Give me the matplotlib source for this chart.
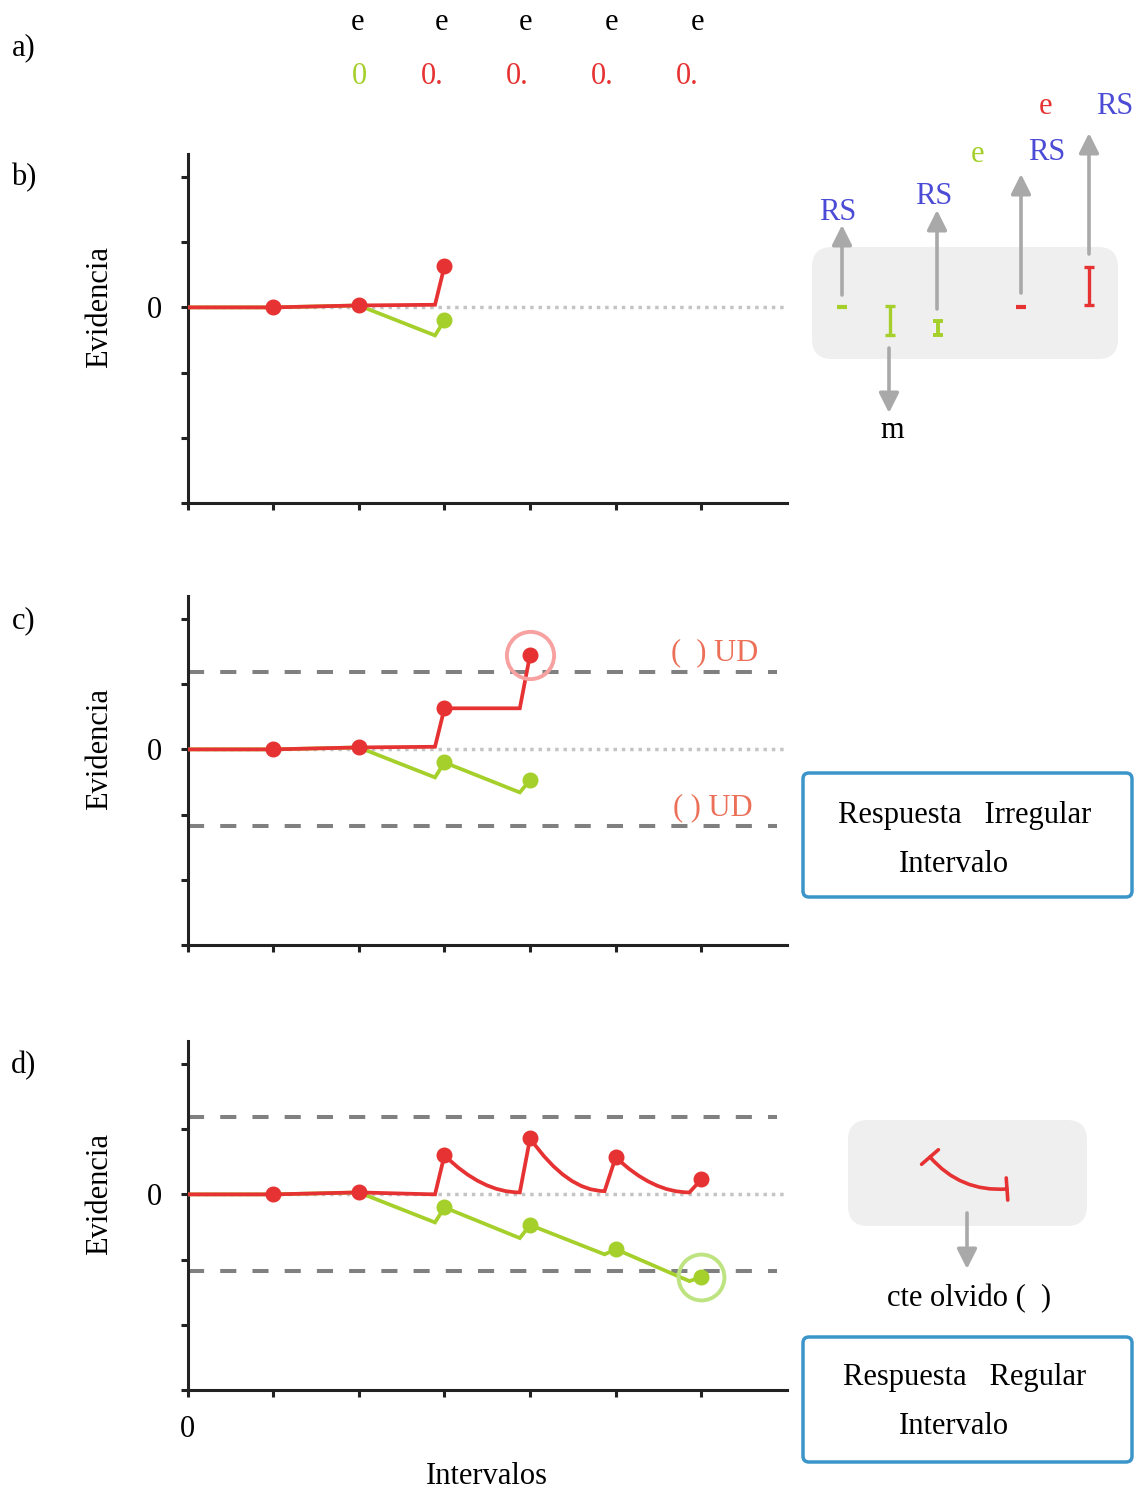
import matplotlib

matplotlib.use("Agg")
import matplotlib.pyplot as plt  # noqa: E402
from matplotlib.patches import FancyArrowPatch, FancyBboxPatch, PathPatch  # noqa: E402
from matplotlib.path import Path  # noqa: E402
from matplotlib.transforms import blended_transform_factory  # noqa: E402

plt.rcParams.update({
    "font.family": ["Liberation Serif", "DejaVu Serif"],
    "font.size": 22,
})

RED = "#e63232"
GREEN = "#a5d02b"
BLUE_TXT = "#4b4bd6"
GRAY_ARROW = "#a9a9a9"
BOX_GRAY = "#efefef"
BOX_BLUE = "#3b95c9"
SALMON = "#ec6f58"

# --- datos ---
TOP_E = ["e", "e", "e", "e", "e"]
TOP_VALS = ["0", "0.", "0.", "0.", "0."]
THRESH = 1.18

# b) un solo salto
B_RED_X = [0, 1, 2, 2.89, 3]
B_RED_Y = [0, 0, 0.03, 0.04, 0.63]
B_GREEN_X = [0, 1, 2, 2.89, 3]
B_GREEN_Y = [0, 0, 0.03, -0.43, -0.20]

# c) intervalo irregular
C_RED_X = [0, 1, 2, 2.89, 3, 3.88, 4]
C_RED_Y = [0, 0, 0.03, 0.04, 0.63, 0.63, 1.45]
C_GREEN_X = [0, 1, 2, 2.89, 3, 3.88, 4]
C_GREEN_Y = [0, 0, 0.03, -0.43, -0.20, -0.66, -0.47]

# d) intervalo regular (con olvido)
D_RED_DOT_X = [1, 2, 3, 4, 5, 6]
D_RED_DOT_Y = [0, 0.03, 0.60, 0.86, 0.57, 0.23]
D_RED_TROUGH_X = [2.89, 3.88, 4.87, 5.86]
D_RED_TROUGH_Y = [0.0, 0.03, 0.05, 0.03]
D_GREEN_X = [0, 1, 2, 2.89, 3, 3.88, 4, 4.87, 5, 5.86, 6]
D_GREEN_Y = [0, 0, 0.03, -0.43, -0.20, -0.67, -0.47, -0.92, -0.84, -1.33, -1.27]

W, H = 1139, 1490
fig = plt.figure(figsize=(W / 100, H / 100), dpi=100)

LEFT = 187.5 / W
WIDTH = (787 - 187.5) / W
AX_H = 349.5 / H
LW = 2.7


def setup_axes(bottom_px, xlabels=False):
    ax = fig.add_axes([LEFT, 1 - bottom_px / H, WIDTH, AX_H])
    ax.set_xlim(0, 7)
    ax.set_ylim(-3, 2.36)
    ax.set_xticks(range(7), ["0"] + [""] * 6 if xlabels else [""] * 7)
    ax.set_yticks(range(-3, 3), ["", "", "", "0", "", ""])
    ax.tick_params(length=5, width=2.2, color="#222222", pad=13, labelsize=22)
    for side in ("top", "right"):
        ax.spines[side].set_visible(False)
    for side in ("left", "bottom"):
        ax.spines[side].set_linewidth(2.2)
        ax.spines[side].set_color("#222222")
    ax.axhline(0, color="#c4c4c4", lw=2.5, dashes=(1.0, 1.4), zorder=1)
    tr = blended_transform_factory(ax.transAxes, ax.transData)
    ax.text(-0.146, 0, "Evidencia", transform=tr, rotation=90,
            ha="center", va="center", fontsize=22)
    return ax


def thresholds(ax):
    for y in (THRESH, -THRESH):
        ax.plot([0, 6.88], [y, y], color="#808080", lw=2.9, dashes=(4, 4),
                solid_capstyle="butt", dash_capstyle="butt", zorder=1)


line_kw = dict(lw=LW, marker="o", ms=10.5, solid_joinstyle="miter", zorder=3)

# b)
ax_b = setup_axes(503)
ax_b.plot(B_GREEN_X, B_GREEN_Y, color=GREEN, markevery=[4], **line_kw)
ax_b.plot(B_RED_X, B_RED_Y, color=RED, markevery=[1, 2, 4], **line_kw)

# c)
ax_c = setup_axes(945)
thresholds(ax_c)
ax_c.plot(C_GREEN_X, C_GREEN_Y, color=GREEN, markevery=[4, 6], **line_kw)
ax_c.plot(C_RED_X, C_RED_Y, color=RED, markevery=[1, 2, 4, 6], **line_kw)
ax_c.plot(C_RED_X[-1], C_RED_Y[-1], "o", ms=34, mfc="none", mec="#f7a1a1",
          mew=2.8, zorder=4)
ax_c.text(6.15, 1.49, "(  ) UD", color=SALMON, ha="center", va="center")
ax_c.text(6.13, -0.89, "( ) UD", color=SALMON, ha="center", va="center")

# d)
ax_d = setup_axes(1390, xlabels=True)
thresholds(ax_d)
ax_d.plot(D_GREEN_X, D_GREEN_Y, color=GREEN, markevery=[4, 6, 8, 10], **line_kw)
verts = [(0, 0), (D_RED_DOT_X[0], D_RED_DOT_Y[0]), (D_RED_DOT_X[1], D_RED_DOT_Y[1])]
codes = [Path.MOVETO, Path.LINETO, Path.LINETO]
verts.append((D_RED_TROUGH_X[0], D_RED_TROUGH_Y[0]))
codes.append(Path.LINETO)
for i in range(4):
    px, py = D_RED_DOT_X[i + 2], D_RED_DOT_Y[i + 2]
    verts.append((px, py))
    codes.append(Path.LINETO)
    if i < 3:
        tx, ty = D_RED_TROUGH_X[i + 1], D_RED_TROUGH_Y[i + 1]
        verts += [(px + 0.5 * (tx - px), ty), (tx, ty)]
        codes += [Path.CURVE3, Path.CURVE3]
ax_d.add_patch(PathPatch(Path(verts, codes), fill=False, ec=RED, lw=LW,
                         joinstyle="miter", zorder=3))
ax_d.plot(D_RED_DOT_X, D_RED_DOT_Y, "o", color=RED, ms=10.5, zorder=4)
ax_d.plot(D_GREEN_X[-1], D_GREEN_Y[-1], "o", ms=33, mfc="none", mec="#bde480",
          mew=2.8, zorder=4)

# --- capa de anotaciones en píxeles ---
ov = fig.add_axes([0, 0, 1, 1], zorder=10)
ov.set_xlim(0, W)
ov.set_ylim(H, 0)
ov.axis("off")
DY = 3  # compensación vertical del texto


def label(x, y, s, **kw):
    ov.text(x, y + DY, s, ha="center", va="center", **kw)


for lbl, y in (("a)", 45), ("b)", 175), ("c)", 618), ("d)", 1063)):
    label(24, y, lbl)

for x, s in zip([358, 441, 526, 612, 698], TOP_E):
    label(x, 20, s)
for i, (x, s) in enumerate(zip([359, 432, 517, 602, 687], TOP_VALS)):
    label(x, 73, s, color=GREEN if i == 0 else RED)

label(487, 1473, "Intervalos")


def arrow(x0, y0, x1, y1):
    ov.add_patch(FancyArrowPatch((x0, y0), (x1, y1),
                                 arrowstyle="-|>,head_length=0.6,head_width=0.3",
                                 mutation_scale=20, lw=2.6, color=GRAY_ARROW,
                                 shrinkA=0, shrinkB=0))


def bar_glyph(x, y0, y1, color, cap=10, lw=2.4):
    ov.plot([x, x], [y0, y1], color=color, lw=lw, solid_capstyle="butt")
    for y in (y0, y1):
        ov.plot([x - cap / 2, x + cap / 2], [y, y], color=color, lw=lw,
                solid_capstyle="butt")


# b) esquema derecho
ov.add_patch(FancyBboxPatch((812, 247), 306, 112,
                            boxstyle="round,pad=0,rounding_size=20",
                            fc=BOX_GRAY, ec="none"))
ov.plot([837, 847], [307, 307], color=GREEN, lw=3, solid_capstyle="butt")
ov.plot([1016, 1026], [307, 307], color=RED, lw=3, solid_capstyle="butt")
bar_glyph(890, 306, 335, GREEN)
bar_glyph(938, 321, 335, GREEN, lw=2.8)
bar_glyph(1089, 267, 305, RED)
arrow(842, 295, 842, 225)
arrow(937, 309, 937, 210)
arrow(1021, 293, 1021, 174)
arrow(1089, 254, 1089, 133)
arrow(889, 348, 889, 413)
for x, y in ((838, 210), (934, 193), (1047, 149), (1115, 103)):
    label(x, y, "RS", color=BLUE_TXT)
label(977, 151, "e", color=GREEN)
label(1045, 104, "e", color=RED)
label(892, 428, "m")

# c) recuadro
ov.add_patch(FancyBboxPatch((803, 773), 329, 124,
                            boxstyle="round,pad=0,rounding_size=6",
                            fc="white", ec=BOX_BLUE, lw=2.5))
label(965, 812, "Respuesta   Irregular")
label(954, 861, "Intervalo")

# d) esquema derecho
ov.add_patch(FancyBboxPatch((848, 1120), 239, 106,
                            boxstyle="round,pad=0,rounding_size=20",
                            fc=BOX_GRAY, ec="none"))
ov.add_patch(FancyArrowPatch((930, 1157), (1007, 1189),
                             arrowstyle="|-|,widthA=0.4,widthB=0.4",
                             connectionstyle="arc3,rad=0.25",
                             mutation_scale=20, lw=2.6, color=RED,
                             shrinkA=0, shrinkB=0))
arrow(967, 1213, 967, 1269)
label(969, 1296, "cte olvido (  )")
ov.add_patch(FancyBboxPatch((803, 1337), 329, 125,
                            boxstyle="round,pad=0,rounding_size=6",
                            fc="white", ec=BOX_BLUE, lw=2.5))
label(965, 1374, "Respuesta   Regular")
label(954, 1423, "Intervalo")

fig.savefig("out.png", dpi=100)
